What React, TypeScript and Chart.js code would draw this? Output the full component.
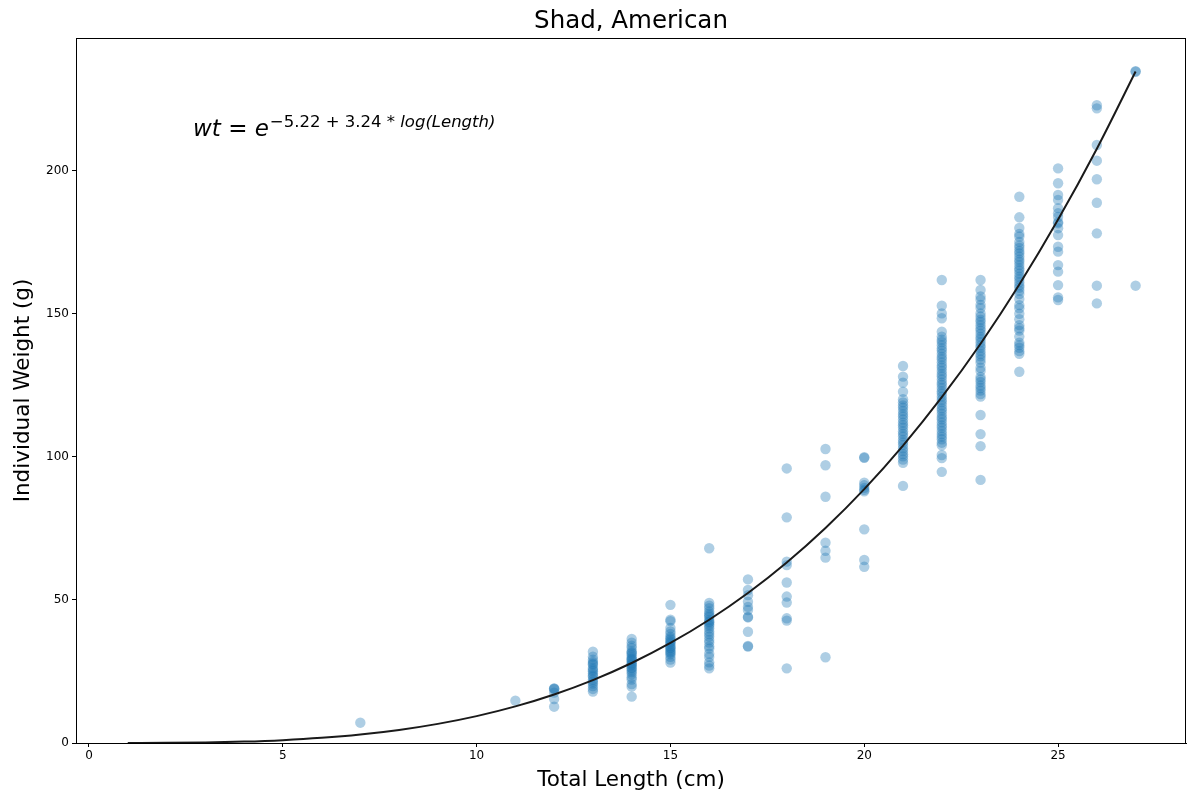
import React, { useEffect, useRef } from "react";
import { Chart, registerables } from "chart.js";

Chart.register(...registerables);

const titleText = "Shad, American";
const xLabel = "Total Length (cm)";
const yLabel = "Individual Weight (g)";

const xTicks = [0, 5, 10, 15, 20, 25];
const yTicks = [0, 50, 100, 150, 200];

// observed weights (g) grouped by total length (cm)
const lengthClasses = [7, 11, 12, 13, 14, 15, 16, 17, 18, 19, 20, 21, 22, 23, 24, 25, 26, 27];
const w7 = [7.1];
const w11 = [14.8];
const w12 = [19.1, 18.8, 19.0, 17.6, 15.4, 12.7];
const w13 = [31.9, 30.2, 29.1, 28.3, 27.4, 26.2, 25.1, 24.3, 23.2, 22.1, 21.4, 20.8, 19.9, 18.9, 18.0, 25.6, 27.7, 23.6];
const w14 = [36.4, 35.1, 34.0, 33.2, 32.1, 31.3, 30.6, 29.8, 29.1, 28.6, 27.9, 27.2, 26.1, 25.4, 24.8, 24.1, 23.0, 22.2, 20.6, 19.7, 16.2, 31.6, 29.4, 27.5, 26.4];
const w15 = [48.3, 43.1, 42.6, 40.2, 39.0, 38.1, 37.2, 36.1, 35.2, 34.6, 33.9, 33.1, 32.4, 31.9, 31.0, 30.1, 29.2, 28.1, 36.6, 35.5, 33.4, 31.5];
const w16 = [68.1, 49.0, 48.0, 47.1, 46.0, 45.2, 44.1, 43.0, 42.2, 41.5, 40.9, 40.1, 39.0, 38.1, 37.2, 36.0, 35.1, 33.8, 33.0, 31.2, 30.1, 28.2, 27.1, 26.1, 44.6, 42.4];
const w17 = [57.2, 53.5, 51.7, 49.4, 47.6, 46.5, 44.1, 43.9, 38.9, 33.9, 33.7];
const w18 = [96.0, 78.9, 63.4, 62.2, 56.1, 51.2, 49.1, 43.6, 42.8, 26.1];
const w19 = [102.8, 97.1, 86.1, 70.0, 67.2, 64.8, 30.0];
const w20 = [99.9, 99.7, 91.0, 90.1, 89.2, 88.5, 88.0, 74.7, 64.0, 61.6];
const w21 = [131.8, 128.1, 126.0, 122.8, 120.2, 119.1, 118.0, 117.2, 116.1, 115.0, 114.2, 113.1, 112.0, 111.1, 110.2, 109.0, 108.1, 107.2, 106.0, 105.1, 104.2, 103.0, 102.1, 101.0, 100.2, 99.1, 98.0, 89.9];
const w22 = [161.9, 152.9, 150.2, 148.5, 143.8, 142.1, 141.0, 140.2, 139.1, 138.0, 137.2, 136.1, 135.0, 134.2, 133.1, 132.0, 131.2, 130.1, 129.0, 128.2, 127.1, 126.0, 125.2, 124.1, 123.0, 122.2, 121.1, 120.0, 119.2, 118.1, 117.0, 116.2, 115.1, 114.0, 113.2, 112.1, 111.0, 110.2, 109.1, 108.0, 107.1, 106.2, 105.0, 104.1, 100.7, 99.6, 94.8];
const w23 = [161.9, 158.4, 156.1, 155.0, 153.2, 152.1, 150.2, 149.1, 148.0, 147.2, 146.1, 145.0, 144.2, 143.1, 142.0, 141.2, 140.1, 139.0, 138.2, 137.1, 136.0, 135.2, 134.1, 133.0, 131.2, 130.1, 128.0, 127.1, 126.2, 125.0, 124.1, 123.2, 122.0, 121.1, 114.7, 108.0, 103.8, 92.0];
const w24 = [191.0, 183.8, 180.1, 178.0, 177.1, 175.2, 174.0, 173.1, 172.0, 171.2, 170.1, 169.0, 168.2, 167.1, 166.0, 165.2, 164.1, 163.0, 162.2, 161.1, 160.0, 159.2, 158.1, 157.0, 155.2, 153.1, 152.0, 150.1, 148.2, 146.1, 145.0, 144.2, 142.1, 140.0, 139.1, 138.2, 137.0, 136.1, 129.8];
const w25 = [200.9, 195.7, 191.6, 189.9, 187.0, 185.2, 183.9, 182.1, 181.7, 180.0, 177.6, 173.5, 171.8, 167.1, 164.8, 160.1, 155.8, 154.9];
const w26 = [223.0, 221.9, 209.1, 203.6, 197.1, 188.9, 178.2, 159.9, 153.7];
const w27 = [234.7, 234.9, 159.9];
const weightGroups = [w7, w11, w12, w13, w14, w15, w16, w17, w18, w19, w20, w21, w22, w23, w24, w25, w26, w27];

// fitted curve wt = e^(-5.22 + 3.24*log(Length)), read at each cm
const fitLength = [1, 2, 3, 4, 5, 6, 7, 8, 9, 10, 11, 12, 13, 14, 15, 16, 17, 18, 19, 20, 21, 22, 23, 24, 25, 26, 27];
const fitWeight = [0.005, 0.051, 0.19, 0.483, 0.995, 1.797, 2.961, 4.565, 6.689, 9.405, 12.81, 16.98, 22.0, 27.97, 34.97, 43.1, 52.44, 63.12, 75.18, 88.77, 104.0, 120.9, 139.6, 160.3, 183.0, 207.8, 234.8];

const W = 1187;
const H = 795;
const FONT = "'DejaVu Sans', sans-serif";

export default function App() {
  const ref = useRef<HTMLCanvasElement | null>(null);

  useEffect(() => {
    const canvas = ref.current;
    if (!canvas) return;

    const scatterPts: { x: number; y: number }[] = [];
    lengthClasses.forEach((len, i) => {
      weightGroups[i].forEach((w) => scatterPts.push({ x: len, y: w }));
    });
    const fitPts = fitLength.map((l, i) => ({ x: l, y: fitWeight[i] }));

    const decor = {
      id: "decor",
      afterDraw(chart: any) {
        const { ctx, chartArea } = chart;
        ctx.save();
        ctx.strokeStyle = "#000";
        ctx.lineWidth = 1;
        ctx.strokeRect(
          Math.round(chartArea.left) + 0.5,
          Math.round(chartArea.top) + 0.5,
          Math.round(chartArea.right - chartArea.left) - 1,
          Math.round(chartArea.bottom - chartArea.top)
        );
        // title
        ctx.fillStyle = "#000";
        ctx.font = `24.5px ${FONT}`;
        ctx.textAlign = "center";
        ctx.textBaseline = "alphabetic";
        ctx.fillText(titleText, (chartArea.left + chartArea.right) / 2, 28);
        // equation
        let x = 193;
        const base = 136;
        ctx.textAlign = "left";
        const seg = (t: string, f: string, y: number) => {
          ctx.font = f;
          ctx.fillText(t, x, y);
          x += ctx.measureText(t).width;
        };
        seg("wt", `italic 23px ${FONT}`, base);
        seg(" = ", `23px ${FONT}`, base);
        seg("e", `italic 23px ${FONT}`, base);
        x += 1;
        const sup = base - 9;
        seg("\u22125.22 + 3.24 * ", `16.5px ${FONT}`, sup);
        seg("log(Length)", `italic 16.5px ${FONT}`, sup);
        ctx.restore();
      },
    };

    const chart = new Chart(canvas, {
      type: "scatter",
      data: {
        datasets: [
          {
            type: "line",
            data: fitPts,
            borderColor: "#1a1a1a",
            borderWidth: 2,
            pointRadius: 0,
            cubicInterpolationMode: "monotone",
            fill: false,
            order: 0,
          } as any,
          {
            type: "scatter",
            data: scatterPts,
            backgroundColor: "rgba(31,119,180,0.36)",
            borderWidth: 0,
            pointRadius: 5.2,
            order: 1,
          } as any,
        ],
      },
      options: {
        responsive: false,
        animation: false,
        events: [],
        layout: { autoPadding: false, padding: { top: 38, right: 1, left: 0, bottom: 0 } },
        plugins: {
          legend: { display: false },
          title: { display: false },
          tooltip: { enabled: false },
        },
        scales: {
          x: {
            type: "linear",
            min: -0.335,
            max: 28.3,
            afterFit: (s: any) => {
              s.height = 52;
              s.paddingLeft = 0;
              s.paddingRight = 0;
            },
            afterBuildTicks: (s: any) => {
              s.ticks = xTicks.map((v) => ({ value: v }));
            },
            grid: { drawOnChartArea: false, drawTicks: true, tickLength: 4, color: "#000" },
            border: { display: true, color: "#000" },
            ticks: { color: "#000", font: { family: FONT, size: 12 }, padding: 2, maxRotation: 0 },
            title: {
              display: true,
              text: xLabel,
              color: "#000",
              font: { family: FONT, size: 21.5 },
              padding: { top: 0, bottom: 2 },
            },
          },
          y: {
            type: "linear",
            min: 0,
            max: 246.5,
            afterFit: (s: any) => {
              s.width = 76;
              s.paddingTop = 0;
              s.paddingBottom = 0;
            },
            afterBuildTicks: (s: any) => {
              s.ticks = yTicks.map((v) => ({ value: v }));
            },
            grid: { drawOnChartArea: false, drawTicks: true, tickLength: 4, color: "#000" },
            border: { display: true, color: "#000" },
            ticks: { color: "#000", font: { family: FONT, size: 12 }, padding: 3 },
            title: {
              display: true,
              text: yLabel,
              color: "#000",
              font: { family: FONT, size: 21.5 },
              padding: { top: 11, bottom: 0 },
            },
          },
        },
      },
      plugins: [decor],
    });

    return () => chart.destroy();
  }, []);

  return (
    <div style={{ position: "fixed", left: 0, top: 0, width: W, height: H, background: "#fff" }}>
      <canvas ref={ref} width={W} height={H} style={{ width: W, height: H, display: "block" }} />
    </div>
  );
}
